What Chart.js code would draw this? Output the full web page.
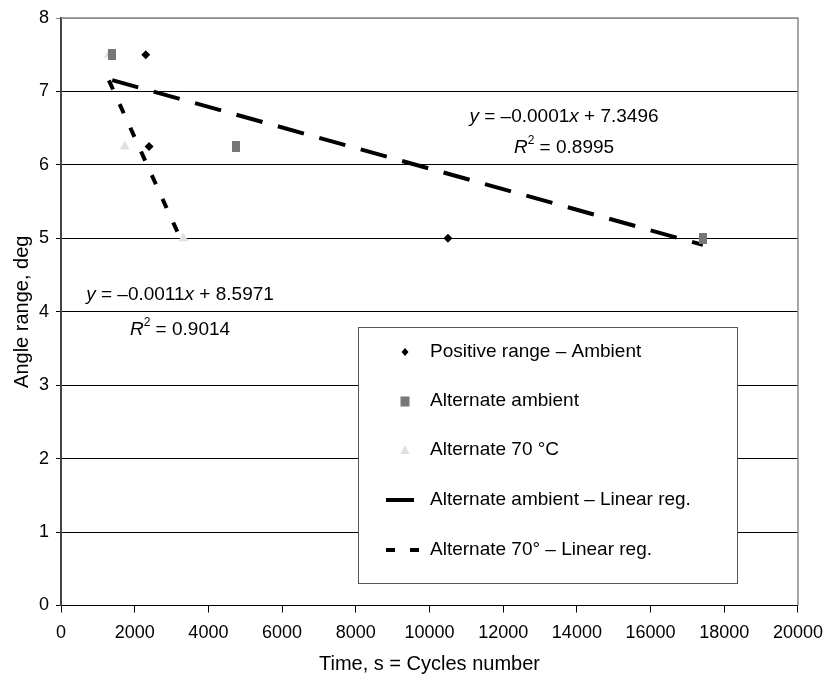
<!DOCTYPE html>
<html><head><meta charset="utf-8">
<script src="https://cdn.jsdelivr.net/npm/chart.js@4/dist/chart.umd.min.js"></script>
<style>html,body{margin:0;padding:0;background:#fff}#wrap{width:833px;height:681px;position:relative}</style>
</head><body><div id="wrap"><canvas id="c" width="833" height="681"></canvas></div>
<script>
// ---- data ----
const positiveAmbientX = [2300, 2390, 10500];
const positiveAmbientY = [7.5, 6.25, 5];
const alternateAmbientX = [1390, 4760, 17420];
const alternateAmbientY = [7.5, 6.25, 5];
const alternate70X = [1300, 1730, 3320];
const alternate70Y = [7.5, 6.25, 5];
const ambientRegX = [1390, 17420];
const ambientRegY = [7.155, 4.91];
const reg70X = [1300, 3320];
const reg70Y = [7.15, 4.91];
const xTickValues = [0, 2000, 4000, 6000, 8000, 10000, 12000, 14000, 16000, 18000, 20000];
const yTickValues = [0, 1, 2, 3, 4, 5, 6, 7, 8];
const seriesNames = ['Positive range \u2013 Ambient', 'Alternate ambient', 'Alternate 70 \u00b0C',
  'Alternate ambient \u2013 Linear reg.', 'Alternate 70\u00b0 \u2013 Linear reg.'];
const xTitle = 'Time, s = Cycles number';
const yTitle = 'Angle range, deg';
const eqAmbient = ['\u20130.0001', ' + 7.3496', '0.8995'];
const eq70 = ['\u20130.0011', ' + 8.5971', '0.9014'];

const FONT = '"Liberation Sans", Arial, sans-serif';
const pts = (xs, ys) => xs.map((x, i) => ({x, y: ys[i]}));

// tall square marker (as in the reference)
const sq = document.createElement('canvas');
sq.width = 8; sq.height = 11;
(function(){ const c = sq.getContext('2d'); c.fillStyle = '#777'; c.fillRect(0, 0, 8, 11); })();

const overlay = {
  id: 'overlay',
  beforeDatasetsDraw(chart) {
    const {ctx, chartArea: a} = chart;
    ctx.save();
    ctx.strokeStyle = '#8a8a8a';
    ctx.lineWidth = 1.5;
    ctx.beginPath();
    ctx.moveTo(a.left, a.top); ctx.lineTo(a.right, a.top); ctx.lineTo(a.right, a.bottom);
    ctx.stroke();
    ctx.restore();
  },
  afterDatasetsDraw(chart) {
    const {ctx} = chart;
    ctx.save();
    const bx = 358, by = 327, bw = 379, bh = 256;
    ctx.fillStyle = '#fff';
    ctx.fillRect(bx, by, bw, bh);
    ctx.strokeStyle = '#555';
    ctx.lineWidth = 1;
    ctx.strokeRect(bx + 0.5, by + 0.5, bw, bh);
    const rows = [352, 401, 450, 500, 550];
    const mx = 405;
    ctx.fillStyle = '#000';
    ctx.beginPath();
    ctx.moveTo(mx, rows[0] - 4); ctx.lineTo(mx + 3.5, rows[0]); ctx.lineTo(mx, rows[0] + 4); ctx.lineTo(mx - 3.5, rows[0]);
    ctx.closePath(); ctx.fill();
    ctx.fillStyle = '#777';
    ctx.fillRect(mx - 4.5, rows[1] - 4.5, 9, 10);
    ctx.fillStyle = '#e0e0e0';
    ctx.beginPath();
    ctx.moveTo(mx, rows[2] - 5); ctx.lineTo(mx + 4.5, rows[2] + 4); ctx.lineTo(mx - 4.5, rows[2] + 4);
    ctx.closePath(); ctx.fill();
    ctx.strokeStyle = '#000';
    ctx.lineWidth = 4;
    ctx.lineCap = 'butt';
    ctx.beginPath(); ctx.moveTo(386, rows[3]); ctx.lineTo(414, rows[3]); ctx.stroke();
    ctx.setLineDash([9, 15]);
    ctx.beginPath(); ctx.moveTo(386, rows[4]); ctx.lineTo(419, rows[4]); ctx.stroke();
    ctx.setLineDash([]);
    ctx.fillStyle = '#000';
    ctx.font = '19px ' + FONT;
    ctx.textBaseline = 'middle';
    ctx.textAlign = 'left';
    seriesNames.forEach((n, i) => ctx.fillText(n, 430, rows[i]));
    ctx.restore();
  },
  afterDraw(chart) {
    const {ctx} = chart;
    ctx.save();
    ctx.fillStyle = '#000';
    ctx.textBaseline = 'middle';
    const drawEq = (eq, cx, y1, y2) => {
      const parts = [['italic', 'y'], ['', ' = ' + eq[0]], ['italic', 'x'], ['', eq[1]]];
      let w = 0;
      parts.forEach(p => { ctx.font = (p[0] ? p[0] + ' ' : '') + '19px ' + FONT; w += ctx.measureText(p[1]).width; });
      let x = cx - w / 2;
      ctx.textAlign = 'left';
      parts.forEach(p => { ctx.font = (p[0] ? p[0] + ' ' : '') + '19px ' + FONT; ctx.fillText(p[1], x, y1); x += ctx.measureText(p[1]).width; });
      ctx.font = 'italic 19px ' + FONT;
      const wR = ctx.measureText('R').width;
      ctx.font = '12px ' + FONT;
      const w2 = ctx.measureText('2').width;
      ctx.font = '19px ' + FONT;
      const rest = ' = ' + eq[2];
      const wRest = ctx.measureText(rest).width;
      x = cx - (wR + w2 + wRest) / 2;
      ctx.font = 'italic 19px ' + FONT; ctx.fillText('R', x, y2); x += wR;
      ctx.font = '12px ' + FONT; ctx.fillText('2', x, y2 - 7); x += w2;
      ctx.font = '19px ' + FONT; ctx.fillText(rest, x, y2);
    };
    drawEq(eqAmbient, 564, 117, 148);
    drawEq(eq70, 180, 295, 330);
    ctx.restore();
  }
};

new Chart(document.getElementById('c'), {
  type: 'scatter',
  data: {
    datasets: [
      {label: seriesNames[0], data: pts(positiveAmbientX, positiveAmbientY), pointStyle: 'rectRot', pointRadius: 4.5,
        backgroundColor: '#000', borderColor: '#000', borderWidth: 0, showLine: false},
      {label: seriesNames[1], data: pts(alternateAmbientX, alternateAmbientY), pointStyle: sq, pointRadius: 6,
        backgroundColor: '#777', borderColor: '#777', borderWidth: 0, showLine: false},
      {label: seriesNames[2], data: pts(alternate70X, alternate70Y), pointStyle: 'triangle', pointRadius: 5.8,
        backgroundColor: '#e0e0e0', borderColor: '#e0e0e0', borderWidth: 0, showLine: false},
      {label: seriesNames[3], data: pts(ambientRegX, ambientRegY), showLine: true, pointRadius: 0,
        borderColor: '#000', borderWidth: 4, borderDash: [27, 16], borderCapStyle: 'butt', fill: false},
      {label: seriesNames[4], data: pts(reg70X, reg70Y), showLine: true, pointRadius: 0,
        borderColor: '#000', borderWidth: 4, borderDash: [10, 16], borderCapStyle: 'butt', fill: false}
    ]
  },
  options: {
    responsive: false,
    animation: false,
    events: [],
    layout: {padding: {top: 18, right: 34, left: 0, bottom: 0}},
    plugins: {legend: {display: false}, tooltip: {enabled: false}},
    scales: {
      x: {
        type: 'linear', min: 0, max: 20000,
        afterBuildTicks: s => { s.ticks = xTickValues.map(v => ({value: v})); },
        afterFit: s => { s.height = 75.5; },
        ticks: {color: '#000', font: {family: FONT, size: 18}, padding: 10, callback: v => String(v), maxRotation: 0, autoSkip: false},
        grid: {display: true, drawOnChartArea: false, drawTicks: true, tickLength: 7, color: '#000'},
        border: {display: true, color: '#000', width: 1},
        title: {display: true, text: xTitle, color: '#000', font: {family: FONT, size: 20}, padding: {top: 0, bottom: 5}}
      },
      y: {
        type: 'linear', min: 0, max: 8,
        afterBuildTicks: s => { s.ticks = yTickValues.map(v => ({value: v})); },
        afterFit: s => { s.width = 61; },
        ticks: {color: '#000', font: {family: FONT, size: 18}, padding: 7, callback: v => String(v)},
        grid: {display: true, drawOnChartArea: true, drawTicks: true, tickLength: 5,
          color: c => (c.tick && c.tick.value === 8) ? '#8a8a8a' : '#000', lineWidth: 1},
        border: {display: true, color: '#444', width: 2},
        title: {display: true, text: yTitle, color: '#000', font: {family: FONT, size: 20}, padding: {top: 10, bottom: 0}}
      }
    }
  },
  plugins: [overlay]
});
</script></body></html>
